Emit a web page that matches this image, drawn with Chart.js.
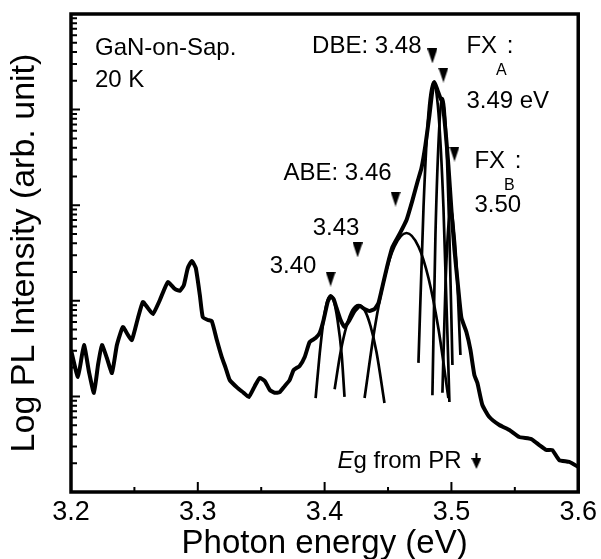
<!DOCTYPE html>
<html lang="en">

<head>
    <meta charset="UTF-8">
    <title>GaN-on-Sap. PL spectrum</title>
    <script src="https://cdn.jsdelivr.net/npm/chart.js"></script>
    <style>
        body {
            margin: 0;
            background: #fff;
        }
    </style>
</head>

<body>
    <canvas id="mycanvas" width="601" height="559"></canvas>

    <script type="text/javascript">
        // measured PL spectrum (photon energy in eV, intensity in arb. units)
        const energy = [3.2000, 3.2055, 3.2102, 3.2142, 3.2181, 3.2213, 3.2244, 3.2283, 3.2323, 3.2362,
            3.2409, 3.2449, 3.2480, 3.2528, 3.2567, 3.2606, 3.2646, 3.2701, 3.2764, 3.2819,
            3.2858, 3.2890, 3.2921, 3.2953, 3.2984, 3.3016, 3.3039, 3.3079, 3.3110, 3.3150,
            3.3189, 3.3220, 3.3252, 3.3315, 3.3362, 3.3402, 3.3449, 3.3488, 3.3528, 3.3567,
            3.3606, 3.3646, 3.3685, 3.3724, 3.3756, 3.3803, 3.3843, 3.3882, 3.3929, 3.3961,
            3.3992, 3.4024, 3.4047, 3.4071, 3.4094, 3.4126, 3.4157, 3.4197, 3.4236, 3.4276,
            3.4315, 3.4354, 3.4394, 3.4425, 3.4457, 3.4496, 3.4535, 3.4591, 3.4646, 3.4693,
            3.4732, 3.4764, 3.4795, 3.4827, 3.4850, 3.4866, 3.4890, 3.4913, 3.4929, 3.4953,
            3.4976, 3.5000, 3.5024, 3.5055, 3.5079, 3.5118, 3.5150, 3.5181, 3.5205, 3.5244,
            3.5299, 3.5378, 3.5457, 3.5535, 3.5630, 3.5693, 3.5748, 3.5795, 3.5850, 3.5929, 3.6000];
        const intensity = [30.6, 16.0, 34.5, 18.0, 10.9, 21.3, 34.5, 25.2, 17.6, 34.5,
            53.2, 43.9, 38.9, 66.1, 97.1, 84.1, 72.8, 102, 157, 133,
            127, 146, 220, 261, 220, 115, 67.7, 63.0, 61.5, 38.9,
            25.8, 19.8, 14.8, 12.2, 10.9, 9.86, 12.8, 15.6, 14.5, 11.7,
            10.9, 11.1, 12.8, 14.8, 18.9, 20.8, 25.8, 37.1, 40.8, 46.0,
            63.0, 97.1, 112, 104, 84.1, 63.0, 53.2, 63.0, 78.2, 88.2,
            82.1, 78.2, 82.1, 94.9, 143, 237, 365, 500, 700, 1130,
            1750, 2450, 4260, 8790, 16000, 19400, 16000, 13200, 12000, 6120,
            2630, 891, 340, 130, 66.1, 47.2, 30.6, 16.7, 13.8, 8.13,
            6.09, 5.02, 4.45, 3.76, 3.58, 3.10, 2.75, 2.75, 2.16, 2.06, 1.83];

        // fitted peaks
        const fit340E = [3.3929, 3.3961, 3.3992, 3.4024, 3.4047, 3.4071, 3.4102, 3.4134, 3.4157];
        const fit340I = [9.6, 27.8, 63, 102, 112, 102, 63, 27.8, 9.9];
        const fit343E = [3.4079, 3.4126, 3.4173, 3.4220, 3.4268, 3.4315, 3.4362, 3.4409, 3.4472];
        const fit343I = [11.9, 29.1, 54.5, 80.1, 90.4, 80.1, 54.5, 29.1, 8.53];
        const fitAbeE = [3.4315, 3.4394, 3.4472, 3.4551, 3.4646, 3.4740, 3.4819, 3.4898, 3.4976];
        const fitAbeI = [9.62, 50.7, 173, 370, 512, 370, 173, 50.7, 9.62];
        const fitDbeE = [3.4740, 3.4780, 3.4819, 3.4858, 3.4898, 3.4937, 3.4984];
        const fitDbeI = [22.4, 958, 9210, 19400, 9210, 958, 8.74];
        const fitFxaE = [3.4850, 3.4874, 3.4906, 3.4929, 3.4953, 3.4984, 3.5008];
        const fitFxaI = [10.3, 488, 7240, 13200, 7240, 488, 21.3];
        const fitFxbE = [3.4929, 3.4953, 3.4976, 3.4996, 3.5016, 3.5039, 3.5071];
        const fitFxbI = [10.9, 143, 606, 891, 606, 255, 27.1];

        // peak markers (the last one is Eg from PR)
        const markE = [3.4047, 3.4260, 3.4559, 3.4850, 3.4937, 3.5024, 3.5197];
        const markI = [169, 340, 1161, 36400, 23000, 3430, 2.11];

        // axis ticks
        const xMajor = [3.2, 3.3, 3.4, 3.5, 3.6];
        const xMinor = [3.25, 3.35, 3.45, 3.55];
        const yMajor = [1, 10, 100, 1000, 10000, 100000];

        const FONT = '"Liberation Sans", Arial, Helvetica, sans-serif';
        Chart.defaults.font.family = FONT;
        Chart.defaults.color = '#000';

        function pts(xs, ys) {
            return xs.map((v, i) => ({ x: v, y: ys[i] }));
        }

        // narrow down-pointing triangles used as point style
        function makeArrow(w, h, stem) {
            const c = document.createElement('canvas');
            c.width = w;
            c.height = h;
            const g = c.getContext('2d');
            g.fillStyle = '#000';
            g.beginPath();
            g.moveTo(0, stem);
            g.lineTo(w, stem);
            g.lineTo(w / 2, h);
            g.closePath();
            g.fill();
            if (stem) g.fillRect(w / 2 - 1, 0, 2, stem + 1);
            return c;
        }
        const tri = makeArrow(10, 15, 0);
        const egArrow = makeArrow(10, 16, 5);

        function fitSet(xs, ys) {
            return {
                data: pts(xs, ys),
                borderColor: '#000',
                borderWidth: 2.7,
                pointRadius: 0,
                fill: false,
                cubicInterpolationMode: 'monotone'
            };
        }

        // frame plus inward tick marks
        const frame = {
            id: 'frame',
            afterDatasetsDraw(chart) {
                const { ctx, chartArea: a, scales: { x, y } } = chart;
                ctx.save();
                ctx.strokeStyle = '#000';
                ctx.lineCap = 'butt';
                ctx.lineWidth = 2;
                ctx.beginPath();
                xMajor.forEach(v => {
                    const p = x.getPixelForValue(v);
                    ctx.moveTo(p, a.bottom);
                    ctx.lineTo(p, a.bottom - 10);
                });
                xMinor.forEach(v => {
                    const p = x.getPixelForValue(v);
                    ctx.moveTo(p, a.bottom);
                    ctx.lineTo(p, a.bottom - 5);
                });
                yMajor.forEach(d => {
                    const p = y.getPixelForValue(d);
                    ctx.moveTo(a.left, p);
                    ctx.lineTo(a.left + 9, p);
                    if (d < 100000) {
                        for (let m = 2; m <= 9; m++) {
                            const q = y.getPixelForValue(d * m);
                            ctx.moveTo(a.left, q);
                            ctx.lineTo(a.left + 6, q);
                        }
                    }
                });
                ctx.stroke();
                ctx.lineWidth = 3.5;
                ctx.strokeRect(a.left, a.top, a.right - a.left, a.bottom - a.top);
                ctx.restore();
            }
        };

        // text notes placed in data coordinates
        const notes = {
            id: 'notes',
            afterDraw(chart) {
                const { ctx, scales: { x, y } } = chart;
                ctx.save();
                ctx.fillStyle = '#000';
                ctx.textBaseline = 'alphabetic';
                const big = '24px ' + FONT;
                const small = '16px ' + FONT;

                function put(text, e, v, align) {
                    ctx.font = big;
                    ctx.textAlign = align || 'left';
                    ctx.fillText(text, x.getPixelForValue(e), y.getPixelForValue(v));
                }

                function sub(main, s, e, v) {
                    let px = x.getPixelForValue(e);
                    const py = y.getPixelForValue(v);
                    ctx.textAlign = 'left';
                    ctx.font = big;
                    ctx.fillText(main, px, py);
                    px += ctx.measureText(main).width - 1;
                    ctx.font = small;
                    ctx.fillText(s, px, py + 22);
                    px += ctx.measureText(s).width;
                    ctx.font = big;
                    ctx.fillText(':', px, py);
                }

                put('GaN-on-Sap.', 3.2189, 37200);
                put('20 K', 3.2189, 17200);
                put('DBE: 3.48', 3.4764, 39100, 'right');
                sub('FX', 'A', 3.5118, 39100);
                put('3.49 eV', 3.5118, 10400);
                sub('FX', 'B', 3.5181, 2450);
                put('3.50', 3.5181, 849);
                put('ABE: 3.46', 3.4528, 1835, 'right');
                put('3.43', 3.3906, 488);
                put('3.40', 3.3567, 195);

                // "Eg from PR" with italic E
                let px = x.getPixelForValue(3.4102);
                const py = y.getPixelForValue(1.78);
                ctx.textAlign = 'left';
                ctx.font = 'italic ' + big;
                ctx.fillText('E', px, py);
                px += ctx.measureText('E').width;
                ctx.font = big;
                ctx.fillText('g from PR', px, py);
                ctx.restore();
            }
        };

        const ctx = document.getElementById('mycanvas').getContext('2d');

        new Chart(ctx, {
            type: 'line',
            data: {
                datasets: [
                    {
                        data: pts(energy, intensity),
                        borderColor: '#000',
                        borderWidth: 4,
                        pointRadius: 0,
                        tension: 0.15,
                        fill: false
                    },
                    fitSet(fit340E, fit340I),
                    fitSet(fit343E, fit343I),
                    fitSet(fitAbeE, fitAbeI),
                    fitSet(fitDbeE, fitDbeI),
                    fitSet(fitFxaE, fitFxaI),
                    fitSet(fitFxbE, fitFxbI),
                    {
                        data: pts(markE, markI),
                        showLine: false,
                        pointStyle: markE.map((v, i) => i === markE.length - 1 ? egArrow : tri),
                        pointRadius: 6,
                        clip: false
                    }
                ]
            },
            options: {
                responsive: false,
                animation: false,
                layout: { padding: { left: 0, right: 22, top: 14, bottom: 0 } },
                plugins: {
                    legend: { display: false },
                    tooltip: { enabled: false }
                },
                scales: {
                    x: {
                        type: 'linear',
                        min: 3.2,
                        max: 3.6,
                        grid: { display: false, drawTicks: false },
                        border: { display: false },
                        ticks: {
                            stepSize: 0.1,
                            padding: 4,
                            maxRotation: 0,
                            autoSkip: false,
                            font: { size: 27 },
                            callback: v => Number(v).toFixed(1)
                        },
                        title: {
                            display: true,
                            text: 'Photon energy (eV)',
                            font: { size: 33, lineHeight: 0.9 },
                            padding: { top: 0, bottom: 0 }
                        },
                        afterFit: scale => { scale.height = 67; }
                    },
                    y: {
                        type: 'logarithmic',
                        min: 1,
                        max: 100000,
                        grid: { display: false, drawTicks: false },
                        border: { display: false },
                        ticks: { display: false },
                        title: {
                            display: true,
                            text: 'Log PL Intensity (arb. unit)',
                            font: { size: 34, lineHeight: 1.2 },
                            padding: { top: 4, bottom: 0 }
                        },
                        afterFit: scale => { scale.width = 71; }
                    }
                }
            },
            plugins: [frame, notes]
        });
    </script>

</body>

</html>
